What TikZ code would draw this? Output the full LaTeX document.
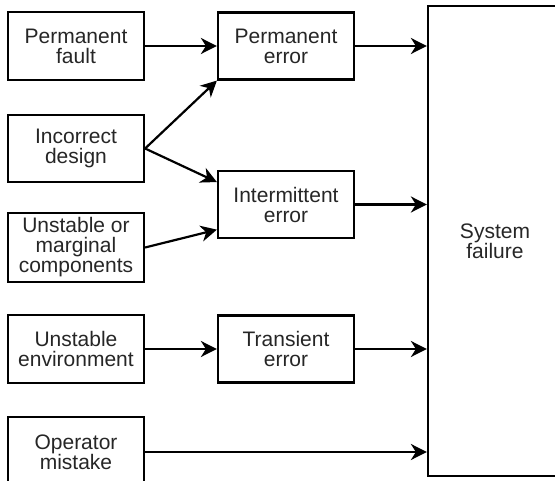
\documentclass[tikz,border=0pt]{standalone}
\usepackage{fontspec}
\setmainfont{Liberation Sans}
\usepackage{tikz}
\usetikzlibrary{
    positioning,
    arrows.meta
}
\tikzset{
    >={Stealth[length=16pt,width=16pt,inset=5pt]},
    bloque/.style={
        draw,
        line width=2.2pt,
        minimum width=136pt,
        minimum height=68pt,
        inner sep=0pt,
        align=center,
        text=black!85,
        font=\fontsize{21}{20}\selectfont
    }
}

\begin{document}
\begin{tikzpicture}[
    x=1pt,
    y=-1pt,
    line width=2.2pt,
    >={Stealth[length=16pt,width=16pt,inset=5pt]}
]

    \useasboundingbox (0,0) rectangle (555,481);
    \clip (0,0) rectangle (555,481);

    % Causas
    \node[bloque]                      (pf) at (76,46)    {Permanent\\fault};
    \node[bloque, minimum height=67pt] (id) at (76,148.5) {Incorrect\\design};
    \node[bloque, minimum height=69pt] (um) at (76,247.5) {Unstable or\\marginal\\components};
    \node[bloque]                      (ue) at (76,349)   {Unstable\\environment};
    \node[bloque, minimum height=70pt] (om) at (76,452)   {Operator\\mistake};

    % Errores
    \node[bloque, minimum height=67pt] (pe) at (286,46)    {Permanent\\error};
    \node[bloque, minimum height=67pt] (ie) at (286,204.5) {Intermittent\\error};
    \node[bloque, minimum height=67pt] (te) at (286,349)   {Transient\\error};

    % Fallo del sistema
    \node[bloque, minimum width=134pt, minimum height=470pt]
                                       (sf) at (495,241)  {System\\failure};

    % Transiciones
    \path[->]

        % Causas hacia errores
        (pf.east) edge (pe.west)
        (id.east) edge (pe.south west)
        (id.east) edge (ie.162)
        (um.east) edge (ie.200)
        (ue.east) edge (te.west)

        % Errores hacia el fallo
        (pe.east) edge (pe.east -| sf.west)
        (ie.east) edge (ie.east -| sf.west)
        (te.east) edge (te.east -| sf.west)
        (om.east) edge (om.east -| sf.west);

\end{tikzpicture}
\end{document}
